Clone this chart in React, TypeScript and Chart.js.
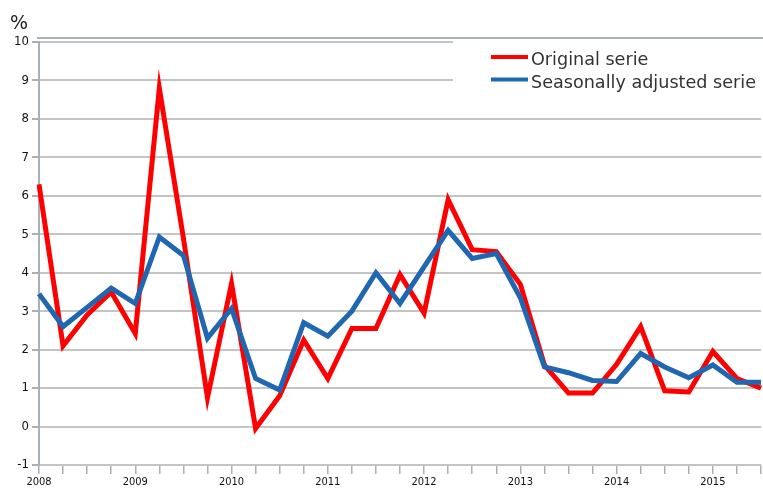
import React, { useEffect, useRef } from 'react';
import { Chart, registerables } from 'chart.js';

Chart.register(...registerables);

const categories = [
  '2008 Q1', '2008 Q2', '2008 Q3', '2008 Q4',
  '2009 Q1', '2009 Q2', '2009 Q3', '2009 Q4',
  '2010 Q1', '2010 Q2', '2010 Q3', '2010 Q4',
  '2011 Q1', '2011 Q2', '2011 Q3', '2011 Q4',
  '2012 Q1', '2012 Q2', '2012 Q3', '2012 Q4',
  '2013 Q1', '2013 Q2', '2013 Q3', '2013 Q4',
  '2014 Q1', '2014 Q2', '2014 Q3', '2014 Q4',
  '2015 Q1', '2015 Q2', '2015 Q3',
];

const originalSerie = [
  6.3, 2.1, 2.9, 3.5,
  2.42, 8.8, 4.9, 0.75,
  3.72, -0.05, 0.8, 2.25,
  1.25, 2.55, 2.55, 3.95,
  2.95, 5.9, 4.6, 4.55,
  3.7, 1.6, 0.87, 0.87,
  1.62, 2.6, 0.93, 0.9,
  1.95, 1.25, 1.0,
];

const seasonallyAdjusted = [
  3.45, 2.6, 3.1, 3.6,
  3.2, 4.93, 4.45, 2.3,
  3.07, 1.25, 0.95, 2.7,
  2.35, 3.0, 4.0, 3.2,
  4.15, 5.1, 4.37, 4.5,
  3.35, 1.55, 1.4, 1.2,
  1.17, 1.9, 1.55, 1.27,
  1.6, 1.15, 1.15,
];

const seriesNames = ['Original serie', 'Seasonally adjusted serie'];
const yMin = -1;
const yMax = 10;
const unitLabel = '%';

const RED = '#ff0000';
const BLUE = '#1f67b1';
const GRID = '#c4c4c4';
const AXIS = '#a8b0b8';

const decorPlugin = {
  id: 'decor',
  beforeDatasetsDraw(chart: any) {
    const { ctx, chartArea } = chart;
    ctx.save();
    // top border line
    ctx.strokeStyle = AXIS;
    ctx.lineWidth = 2;
    ctx.beginPath();
    ctx.moveTo(chartArea.left - 2, chartArea.top - 4);
    ctx.lineTo(chart.width, chartArea.top - 4);
    ctx.stroke();
    // legend box
    ctx.fillStyle = '#ffffff';
    ctx.fillRect(453, chartArea.top - 2.5, chart.width - 453, 62);
    const items = [
      { name: seriesNames[0], color: RED, y: 57 },
      { name: seriesNames[1], color: BLUE, y: 79.5 },
    ];
    ctx.font = '17.6px "DejaVu Sans", sans-serif';
    ctx.textBaseline = 'alphabetic';
    ctx.textAlign = 'left';
    for (const it of items) {
      ctx.strokeStyle = it.color;
      ctx.lineWidth = 4;
      ctx.beginPath();
      ctx.moveTo(491, it.y);
      ctx.lineTo(528, it.y);
      ctx.stroke();
      ctx.fillStyle = '#333333';
      ctx.fillText(it.name, 531, it.y + 8);
    }
    // unit label
    ctx.fillStyle = '#222222';
    ctx.font = '19px "DejaVu Sans", sans-serif';
    ctx.fillText(unitLabel, 10, 29);
    ctx.restore();
  },
};

export default function App() {
  const ref = useRef<HTMLCanvasElement | null>(null);

  useEffect(() => {
    document.body.style.margin = '0';
    if (!ref.current) return;
    const chart = new Chart(ref.current, {
      type: 'line',
      data: {
        labels: categories,
        datasets: [
          {
            label: seriesNames[0],
            data: originalSerie,
            borderColor: RED,
            backgroundColor: RED,
            borderWidth: 5,
            pointRadius: 0,
            tension: 0,
            order: 1,
          },
          {
            label: seriesNames[1],
            data: seasonallyAdjusted,
            borderColor: BLUE,
            backgroundColor: BLUE,
            borderWidth: 5,
            pointRadius: 0,
            tension: 0,
            order: 0,
          },
        ],
      },
      options: {
        animation: false,
        responsive: true,
        maintainAspectRatio: false,
        layout: { padding: { top: 42, right: 0, bottom: 0, left: 0 } },
        plugins: {
          legend: { display: false },
          tooltip: { enabled: false },
        },
        scales: {
          x: {
            type: 'category',
            offset: false,
            afterFit: (s: any) => { s.height = 23; },
            grid: {
              drawOnChartArea: false,
              drawTicks: true,
              tickLength: 9,
              color: AXIS,
              lineWidth: 1.5,
              offset: false,
            },
            border: { display: true, color: GRID, width: 2 },
            ticks: {
              autoSkip: false,
              maxRotation: 0,
              minRotation: 0,
              padding: 2,
              color: '#111111',
              font: { family: '"DejaVu Sans Condensed", "DejaVu Sans", sans-serif', size: 11 },
              callback: (_v: any, i: number) => {
                const c = categories[i];
                return c.endsWith('Q1') ? c.slice(0, 4) : '';
              },
            },
          },
          y: {
            min: yMin,
            max: yMax,
            afterFit: (s: any) => { s.width = 39; },
            grid: {
              color: GRID,
              lineWidth: 2,
              tickLength: 7,
              tickColor: AXIS,
            },
            border: { display: true, color: AXIS, width: 2 },
            ticks: {
              stepSize: 1,
              padding: 3,
              color: '#111111',
              font: { family: '"Liberation Sans Narrow", "DejaVu Sans Condensed", sans-serif', size: 13 },
            },
          },
        },
      },
      plugins: [decorPlugin],
    });
    return () => chart.destroy();
  }, []);

  return (
    <div style={{ position: 'absolute', left: 0, top: 0, width: 763, height: 488 }}>
      <canvas ref={ref} />
    </div>
  );
}
